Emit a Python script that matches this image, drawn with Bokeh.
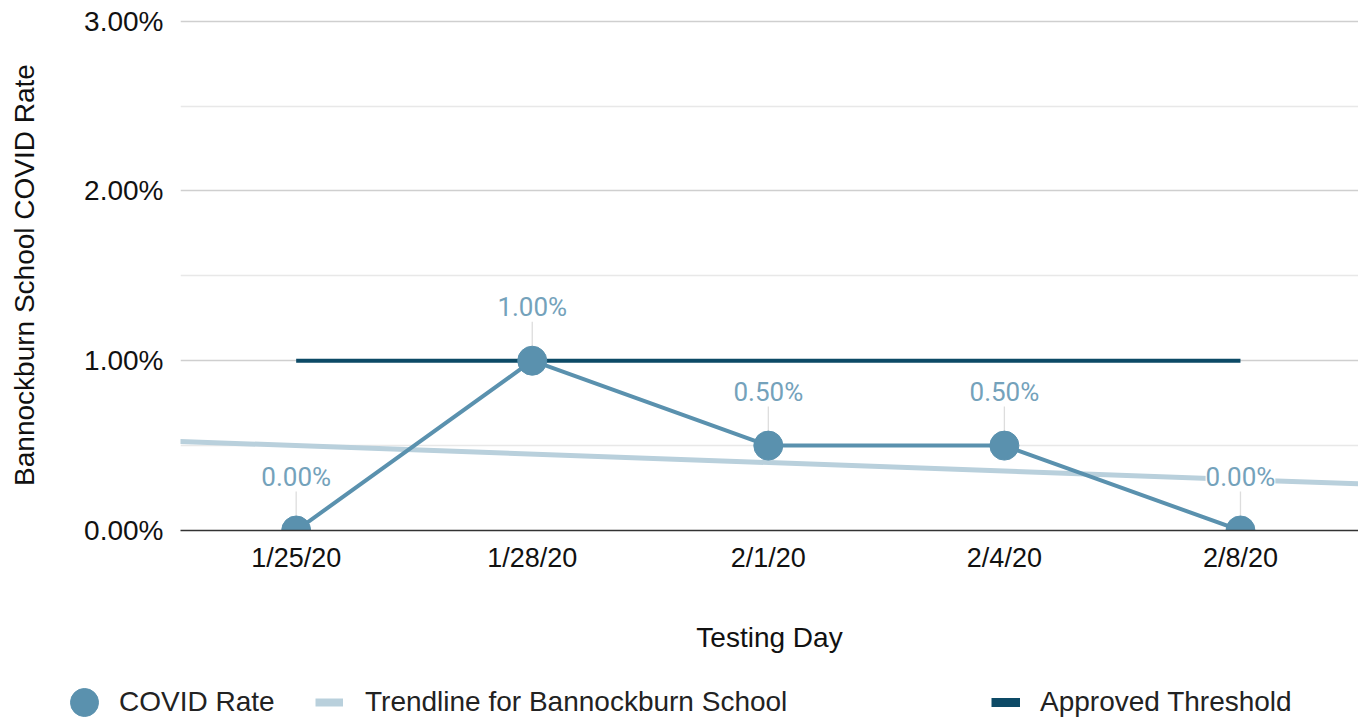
from bokeh.plotting import figure
from bokeh.models import (Range1d, FixedTicker, NumeralTickFormatter, ColumnDataSource,
                          LabelSet, Legend, LegendItem, Slope)
from bokeh.layouts import column
from bokeh.core.properties import value
from bokeh.embed import file_html
from bokeh.resources import INLINE

# ---- data ----
days = ["1/25/20", "1/28/20", "2/1/20", "2/4/20", "2/8/20"]
covid_rate = [0.0, 0.01, 0.005, 0.005, 0.0]
threshold = [0.01, 0.01, 0.01, 0.01, 0.01]
trend_start = 0.005      # trendline value at first testing day
trend_step = -0.0005     # trendline change per testing day
y_ticks = [0.0, 0.01, 0.02, 0.03]
y_minor = [0.005, 0.015, 0.025]

COVID = "#5a91ae"
LABEL = "#74a2bb"
TREND = "#b9d0dc"
THRESH = "#0d4a66"
FONT = "Liberation Sans"

xs = list(range(len(days)))
labels = ["%.2f%%" % (v * 100) for v in covid_rate]
leader_top = [v + 0.0025 for v in covid_rate]

src = ColumnDataSource(dict(x=xs, y=covid_rate, t=labels, ytop=leader_top, thr=threshold))

p = figure(width=1358, height=680, x_range=Range1d(-0.49, 4.5), y_range=Range1d(0, 0.0301),
           output_backend="svg", toolbar_location=None,
           min_border_left=180, min_border_right=0, min_border_top=19, min_border_bottom=150)
p.outline_line_color = None
p.background_fill_color = "white"
p.frame_align = False

# grid
p.xgrid.grid_line_color = None
p.ygrid.grid_line_color = "#cfcfcf"
p.ygrid.grid_line_width = 1.3
p.ygrid.minor_grid_line_color = "#e8e8e8"
p.ygrid.minor_grid_line_width = 1.3

# y axis
p.yaxis.ticker = FixedTicker(ticks=y_ticks, minor_ticks=y_minor)
p.yaxis.formatter = NumeralTickFormatter(format="0.00%")
p.yaxis.axis_line_color = None
p.yaxis.major_tick_line_color = None
p.yaxis.minor_tick_line_color = None
p.yaxis.major_label_standoff = 11
p.yaxis.major_label_text_font = FONT
p.yaxis.major_label_text_font_size = "28px"
p.yaxis.major_label_text_color = "#111111"
p.yaxis.axis_label = "Bannockburn School COVID Rate"
p.yaxis.axis_label_text_font = FONT
p.yaxis.axis_label_text_font_size = "28px"
p.yaxis.axis_label_text_font_style = "normal"
p.yaxis.axis_label_text_color = "#111111"
p.yaxis.axis_label_standoff = 41

# x axis
p.xaxis.ticker = FixedTicker(ticks=xs)
p.xaxis.major_label_overrides = {i: d for i, d in zip(xs, days)}
p.xaxis.axis_line_color = "#333333"
p.xaxis.axis_line_width = 1.5
p.xaxis.major_tick_line_color = None
p.xaxis.minor_tick_line_color = None
p.xaxis.major_label_standoff = 6
p.xaxis.major_label_text_font = FONT
p.xaxis.major_label_text_font_size = "27px"
p.xaxis.major_label_text_color = "#111111"
p.xaxis.axis_label = "Testing Day"
p.xaxis.axis_label_text_font = FONT
p.xaxis.axis_label_text_font_size = "28px"
p.xaxis.axis_label_text_font_style = "normal"
p.xaxis.axis_label_text_color = "#111111"
p.xaxis.axis_label_standoff = 46

# trendline (fitted line across the whole plot)
trend = Slope(gradient=trend_step, y_intercept=trend_start, line_color=TREND,
              line_width=5, level="underlay")
p.add_layout(trend)

# threshold
p.line("x", "thr", source=src, line_color=THRESH, line_width=4)

# leader lines
p.segment(x0="x", y0="y", x1="x", y1="ytop", source=src, line_color="#dddddd", line_width=1.3)

# covid line + points
p.line("x", "y", source=src, line_color=COVID, line_width=4)
p.scatter("x", "y", source=src, size=29, fill_color=COVID, line_color=COVID)

# data labels
lbl = LabelSet(x="x", y="y", text="t", source=src, y_offset=54, text_align="center",
               text_baseline="middle", text_font=value("Roboto"), text_font_size=value("26px"),
               text_color=value(LABEL), background_fill_color=value("white"))
p.add_layout(lbl)

# ---- legend strip (its range keeps the series out of view; only the legend shows) ----
lg = figure(width=1358, height=41, x_range=Range1d(0, 1), y_range=Range1d(1, 2),
            output_backend="svg", toolbar_location=None,
            x_axis_type=None, y_axis_type=None,
            min_border_left=0, min_border_right=0, min_border_top=0, min_border_bottom=0)
lg.outline_line_color = None
lg.xgrid.grid_line_color = None
lg.ygrid.grid_line_color = None
lg.frame_align = False

covid_leg = lg.scatter("x", "y", source=src, fill_color=COVID, line_color=COVID)
trend_leg = lg.line("x", "y", source=src, line_color=TREND, line_width=8)
thr_leg = lg.line("x", "thr", source=src, line_color=THRESH, line_width=9)

def make_legend(item, loc, gw, gh, standoff):
    leg = Legend(items=[item], location=loc, orientation="horizontal",
                 glyph_width=gw, glyph_height=gh, label_standoff=standoff,
                 padding=0, margin=0, spacing=0, border_line_color=None,
                 background_fill_alpha=0, label_text_font=FONT,
                 label_text_font_size="28px", label_text_color="#222222")
    lg.add_layout(leg, "center")

make_legend(LegendItem(label="COVID Rate", renderers=[covid_leg]), (49, -16), 70, 70, 0)
make_legend(LegendItem(label="Trendline for Bannockburn School", renderers=[trend_leg]), (315, -1), 28, 40, 22)
make_legend(LegendItem(label="Approved Threshold", renderers=[thr_leg]), (991, -1), 29, 40, 20)

layout = column(p, lg, spacing=0)
open("out.html", "w").write(file_html(layout, INLINE))
